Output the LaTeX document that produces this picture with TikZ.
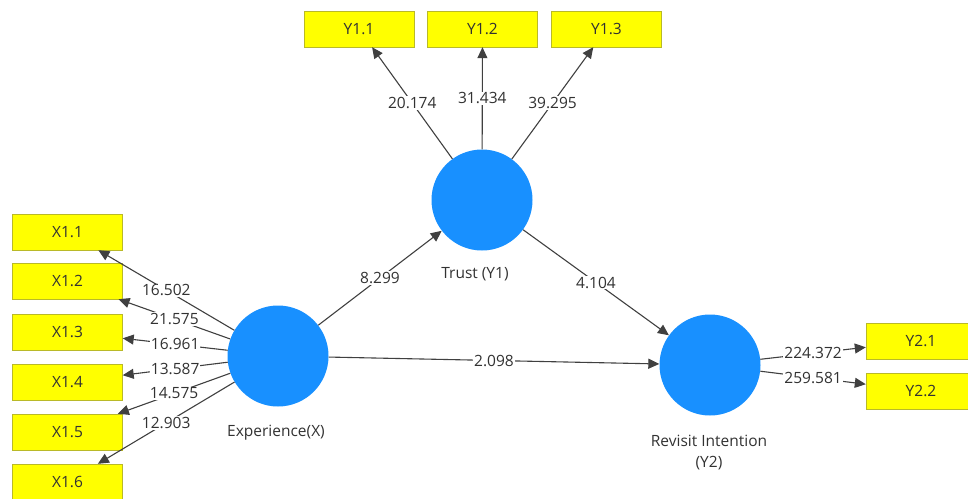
\documentclass[tikz,border=0pt]{standalone}
\usepackage{fontspec}
\setmainfont{Open Sans}
\usetikzlibrary{arrows.meta}

\definecolor{latentblue}{RGB}{24,144,255}
\definecolor{itemyellow}{RGB}{255,255,0}
\definecolor{itemborder}{RGB}{185,185,40}
\definecolor{labelgray}{RGB}{50,50,50}

\tikzset{
	indicator/.style={draw=itemborder, fill=itemyellow, minimum width=110pt, minimum height=36pt, inner sep=0pt, text=labelgray, font=\fontsize{15.5}{21}\selectfont},
	construct/.style={circle, fill=latentblue, minimum size=101pt, inner sep=0pt},
	pathline/.style={-{Triangle[length=11pt,width=10pt]}, line width=1.1pt, draw=black!75},
	coef/.style={fill=white, inner sep=1pt, text=labelgray, font=\fontsize{15.5}{21}\selectfont},
	cname/.style={text=labelgray, font=\fontsize{15.5}{21}\selectfont},
}

\begin{document}
\begin{tikzpicture}[x=1pt, y=-1pt]
	\useasboundingbox (0, 0) rectangle (968, 498);

	% latent variables
	\node[construct] (exp) at (278, 356) {};
	\node[construct] (trust) at (482, 200) {};
	\node[construct] (rev) at (710, 365) {};

	\node[cname] at (276, 433) {Experience(X)};
	\node[cname] at (475, 274) {Trust (Y1)};
	\node[cname, align=center] at (709, 453) {Revisit Intention\\(Y2)};

	% indicators of X
	\foreach \i/\y in {1/232,2/281,3/332,4/382,5/432,6/482} {
		\node[indicator] (x\i) at (67.5, \y) {X1.\i};
	};

	% indicators of Y1
	\foreach \i/\x in {1/359,2/482.5,3/606.5} {
		\node[indicator] (y1\i) at (\x, 29) {Y1.\i};
	};

	% indicators of Y2
	\node[indicator] (y21) at (921, 341) {Y2.1};
	\node[indicator] (y22) at (921, 391) {Y2.2};

	% outer loadings
	\foreach \i/\v in {1/16.502,2/21.575,3/16.961,4/13.587,5/14.575,6/12.903} {
		\draw[pathline] (exp) -- node[coef] {\v} (x\i);
	};
	\foreach \i/\v in {1/20.174,2/31.434,3/39.295} {
		\draw[pathline] (trust) -- node[coef] {\v} (y1\i);
	};
	\draw[pathline] (rev) -- node[coef] {224.372} (y21);
	\draw[pathline] (rev) -- node[coef] {259.581} (y22);

	% inner model
	\draw[pathline] (exp) -- node[coef] {8.299} (trust);
	\draw[pathline] (trust) -- node[coef] {4.104} (rev);
	\draw[pathline] (exp) -- node[coef] {2.098} (rev);
\end{tikzpicture}
\end{document}
